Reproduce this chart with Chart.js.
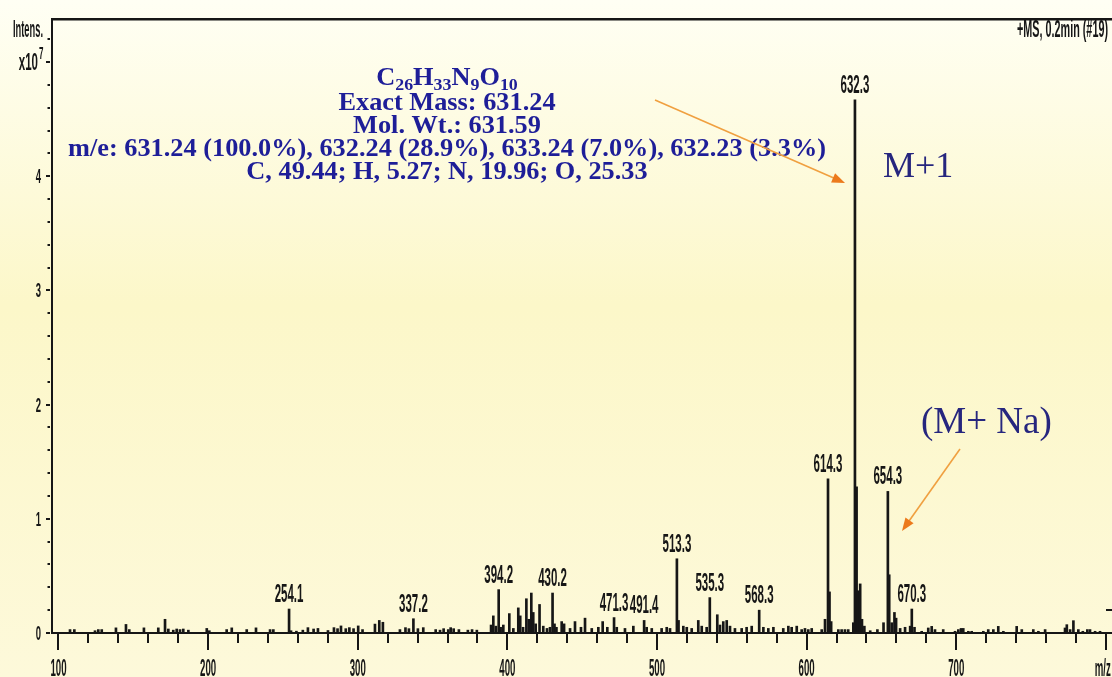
<!DOCTYPE html>
<html>
<head>
<meta charset="utf-8">
<script src="https://cdn.jsdelivr.net/npm/chart.js@4.4.1/dist/chart.umd.min.js"></script>
<style>
  html, body { margin: 0; padding: 0; background: #fefcea; }
  canvas { display: block; }
</style>
</head>
<body>
<canvas id="spectrum" width="1112" height="677"></canvas>
<script>
// ---- spectrum data: m/z positions and intensities (x10^7) ----
const mzValues = [
  107.7, 110.6, 124.4, 126.6, 128.9, 138.4, 145.1, 147.3, 157.1, 166.7,
  171.2, 173.4, 176.7, 179.0, 181.2, 183.4, 186.8, 199.1, 200.8, 212.4,
  215.8, 225.8, 232.0, 241.4, 243.6, 254.1, 255.4, 259.0, 263.3, 266.7,
  270.5, 273.4, 280.1, 284.1, 286.5, 288.8, 292.0, 294.4, 297.2, 300.3,
  303.2, 311.5, 314.4, 316.8, 328.2, 331.9, 334.2, 337.2, 340.2, 343.8,
  352.1, 355.0, 357.4, 360.5, 362.1, 364.1, 367.6, 373.6, 376.4, 379.6,
  389.1, 390.6, 392.3, 394.2, 395.5, 397.3, 401.3, 404.0, 407.3, 408.6,
  410.5, 412.7, 414.3, 416.0, 417.3, 418.9, 421.5, 424.0, 426.5, 428.5,
  430.2, 431.5, 432.8, 436.3, 437.9, 441.9, 445.2, 449.2, 451.9, 456.4,
  460.8, 463.7, 466.8, 471.3, 473.1, 478.6, 484.2, 491.4, 493.1, 496.5,
  503.1, 506.5, 508.7, 513.3, 514.4, 517.6, 519.9, 523.2, 527.6, 529.9,
  533.2, 535.3, 540.3, 542.1, 544.3, 546.6, 548.8, 552.1, 556.6, 559.9,
  563.3, 568.3, 571.1, 574.4, 577.8, 584.4, 587.8, 590.0, 593.4, 596.7,
  598.9, 601.1, 603.4, 610.1, 612.3, 614.3, 615.3, 616.4, 621.2, 623.4,
  625.6, 627.8, 631.2, 632.3, 633.4, 634.3, 635.8, 637.0, 638.6, 642.5,
  647.3, 651.4, 654.3, 655.2, 656.9, 658.7, 659.8, 662.5, 665.8, 669.2,
  670.3, 672.1, 676.9, 681.3, 683.6, 685.8, 691.3, 699.2, 701.4, 703.2,
  704.7, 708.1, 710.3, 718.1, 721.4, 724.8, 728.1, 731.5, 740.4, 743.8,
  751.5, 754.9, 759.4, 772.7, 773.9, 776.1, 778.3, 781.6, 784.6, 787.6,
  789.4, 792.8, 796.1
];
const intensities = [
  0.03, 0.03, 0.02, 0.03, 0.03, 0.045, 0.075, 0.03, 0.045, 0.045,
  0.12, 0.035, 0.025, 0.035, 0.03, 0.035, 0.025, 0.04, 0.02, 0.03,
  0.045, 0.03, 0.045, 0.03, 0.03, 0.21, 0.02, 0.016, 0.025, 0.047,
  0.035, 0.04, 0.022, 0.047, 0.038, 0.062, 0.038, 0.047, 0.038, 0.062,
  0.03, 0.078, 0.11, 0.094, 0.03, 0.047, 0.038, 0.125, 0.038, 0.047,
  0.03, 0.025, 0.038, 0.03, 0.047, 0.038, 0.03, 0.025, 0.03, 0.025,
  0.07, 0.15, 0.06, 0.38, 0.05, 0.07, 0.17, 0.04, 0.22, 0.15,
  0.05, 0.30, 0.12, 0.35, 0.18, 0.08, 0.25, 0.06, 0.04, 0.05,
  0.35, 0.08, 0.05, 0.10, 0.08, 0.04, 0.10, 0.05, 0.13, 0.04,
  0.05, 0.10, 0.05, 0.135, 0.05, 0.04, 0.06, 0.11, 0.05, 0.04,
  0.04, 0.05, 0.04, 0.65, 0.11, 0.06, 0.05, 0.04, 0.11, 0.06,
  0.05, 0.31, 0.16, 0.07, 0.10, 0.11, 0.06, 0.04, 0.04, 0.05,
  0.06, 0.20, 0.05, 0.04, 0.05, 0.04, 0.06, 0.05, 0.06, 0.03,
  0.04, 0.03, 0.04, 0.03, 0.12, 1.35, 0.36, 0.10, 0.03, 0.03,
  0.03, 0.03, 0.09, 4.67, 1.28, 0.37, 0.43, 0.12, 0.06, 0.02,
  0.03, 0.09, 1.24, 0.51, 0.09, 0.18, 0.13, 0.04, 0.05, 0.06,
  0.21, 0.05, 0.015, 0.044, 0.058, 0.03, 0.03, 0.015, 0.03, 0.04,
  0.04, 0.015, 0.015, 0.015, 0.03, 0.03, 0.058, 0.015, 0.058, 0.03,
  0.03, 0.015, 0.03, 0.044, 0.073, 0.03, 0.108, 0.03, 0.015, 0.03,
  0.03, 0.015, 0.015
];
// peaks carrying an m/z label
const labeledPeaks = [254.1, 337.2, 394.2, 430.2, 471.3, 491.4, 513.3, 535.3, 568.3, 614.3, 632.3, 654.3, 670.3];

// axis ticks
const xMajorTicks = [100, 200, 300, 400, 500, 600, 700, 800];
const xTickLabels = ['100', '200', '300', '400', '500', '600', '700', 'm/z'];
const yMajorTicks = [0, 1, 2, 3, 4, 5];
const yTickLabels = ['0', '1', '2', '3', '4', 'x10'];

// annotation texts
const formulaParts = [['C', 0], ['26', 1], ['H', 0], ['33', 1], ['N', 0], ['9', 1], ['O', 0], ['10', 1]];
const infoLines = [
  'Exact Mass: 631.24',
  'Mol. Wt.: 631.59',
  'm/e: 631.24 (100.0%), 632.24 (28.9%), 633.24 (7.0%), 632.23 (3.3%)',
  'C, 49.44; H, 5.27; N, 19.96; O, 25.33'
];
const headerText = '+MS, 0.2min (#19)';

const INK = '#161616';
const BLUE = '#1e1e98';
const NAVY = '#26267e';
const ORANGE = '#f0a040';
const ORANGE_HEAD = '#ec7a1c';
const SERIF = '"Liberation Serif", "Times New Roman", serif';

// condensed instrument-style lettering
function narrowText(ctx, text, x, y, size, sx, align, targetWidth) {
  ctx.save();
  ctx.font = 'bold ' + size + 'px "Liberation Sans", Arial, sans-serif';
  const raw = ctx.measureText(text).width;
  const s = targetWidth ? targetWidth / raw : sx;
  const w = raw * s;
  const left = align === 'center' ? x - w / 2 : align === 'right' ? x - w : x;
  ctx.translate(left, y);
  ctx.scale(s, 1);
  ctx.textAlign = 'left';
  ctx.textBaseline = 'alphabetic';
  ctx.fillStyle = INK;
  ctx.fillText(text, 0, 0);
  ctx.restore();
}

function arrow(ctx, x1, y1, x2, y2) {
  const ang = Math.atan2(y2 - y1, x2 - x1);
  const len = 13, half = 5;
  ctx.save();
  ctx.strokeStyle = ORANGE;
  ctx.lineWidth = 1.6;
  ctx.beginPath();
  ctx.moveTo(x1, y1);
  ctx.lineTo(x2 - Math.cos(ang) * len * 0.8, y2 - Math.sin(ang) * len * 0.8);
  ctx.stroke();
  ctx.fillStyle = ORANGE_HEAD;
  ctx.beginPath();
  ctx.moveTo(x2, y2);
  ctx.lineTo(x2 - Math.cos(ang) * len - Math.sin(ang) * half, y2 - Math.sin(ang) * len + Math.cos(ang) * half);
  ctx.lineTo(x2 - Math.cos(ang) * len + Math.sin(ang) * half, y2 - Math.sin(ang) * len - Math.cos(ang) * half);
  ctx.closePath();
  ctx.fill();
  ctx.restore();
}

const paper = {
  id: 'paper',
  beforeDraw(chart) {
    const { ctx, width, height } = chart;
    const g = ctx.createLinearGradient(0, 0, 0, height);
    g.addColorStop(0, '#fffff4');
    g.addColorStop(0.45, '#fcf7c9');
    g.addColorStop(1, '#fdf9da');
    ctx.save();
    ctx.fillStyle = g;
    ctx.fillRect(0, 0, width, height);
    ctx.restore();
  }
};

const axesAndNotes = {
  id: 'axesAndNotes',
  afterDatasetsDraw(chart) {
    const { ctx, chartArea: a, scales: { x, y } } = chart;
    ctx.save();
    ctx.fillStyle = INK;

    // frame: top edge, intensity axis, m/z axis
    ctx.fillRect(a.left - 1, a.top - 1, a.right - a.left + 1, 2.5);
    ctx.fillRect(a.left - 1, a.top - 1, 2, a.bottom - a.top + 2);
    ctx.fillRect(a.left - 1, a.bottom - 1, a.right - a.left + 1, 2);

    // m/z ticks: every 20, longer every 100
    for (let v = 100; v <= 800; v += 20) {
      const px = Math.round(x.getPixelForValue(v));
      const major = v % 100 === 0;
      ctx.fillRect(px - 1, a.bottom, 2, major ? 17 : 10);
    }
    xMajorTicks.forEach((v, i) => {
      const px = x.getPixelForValue(v);
      if (xTickLabels[i] === 'm/z') {
        narrowText(ctx, xTickLabels[i], px + 5, 676, 23, 0.42, 'right');
      } else {
        narrowText(ctx, xTickLabels[i], px, 676, 23, 0.42, 'center');
      }
    });

    // intensity ticks: every 0.2, short dashes off the axis
    ctx.fillStyle = INK;
    for (let i = 0; i * 0.2 <= y.max + 1e-9; i++) {
      const py = Math.round(y.getPixelForValue(i * 0.2));
      const major = i % 5 === 0;
      if (major) ctx.fillRect(a.left - 6, py - 1, 4, 2);
      else ctx.fillRect(a.left - 4.5, py - 1, 2.5, 2);
    }
    yMajorTicks.forEach((v, i) => {
      const py = y.getPixelForValue(v);
      if (yTickLabels[i] === 'x10') {
        narrowText(ctx, 'x10', 38, py + 8, 23, 0.5, 'right');
        narrowText(ctx, '7', 39, py - 3, 16, 0.5, 'left');
      } else {
        narrowText(ctx, yTickLabels[i], 41, py + 7, 21, 0.45, 'right');
      }
    });
    narrowText(ctx, 'Intens.', 13, 37, 23, 0, 'left', 30);

    // tiny tick on the right border
    ctx.fillStyle = INK;
    ctx.fillRect(a.right - 6, Math.round(y.getPixelForValue(0.2)) - 1, 6, 2);

    // header
    narrowText(ctx, headerText, 1108, 37, 23, 0, 'right', 91);

    // peak labels
    labeledPeaks.forEach(m => {
      const idx = mzValues.indexOf(m);
      const px = x.getPixelForValue(m);
      const py = y.getPixelForValue(intensities[idx]);
      narrowText(ctx, m.toFixed(1), px, py - 7, 25, 0.46, 'center');
    });

    // composition block
    const cx = 447;
    const big = 'bold 25px ' + SERIF;
    const small = 'bold 17px ' + SERIF;
    ctx.fillStyle = BLUE;
    ctx.textBaseline = 'alphabetic';
    ctx.font = big;
    const sx = 758 / ctx.measureText(infoLines[2]).width;
    // molecular formula with subscripts
    let total = 0;
    formulaParts.forEach(([t, sub]) => {
      ctx.font = sub ? small : big;
      total += ctx.measureText(t).width;
    });
    let fx = cx - total * sx / 2;
    formulaParts.forEach(([t, sub]) => {
      ctx.font = sub ? small : big;
      const w = ctx.measureText(t).width;
      ctx.save();
      ctx.translate(fx, sub ? 90 : 85);
      ctx.scale(sx, 1);
      ctx.fillText(t, 0, 0);
      ctx.restore();
      fx += w * sx;
    });
    ctx.font = big;
    const baselines = [110, 133, 156, 179];
    infoLines.forEach((line, i) => {
      const w = ctx.measureText(line).width * sx;
      ctx.save();
      ctx.translate(cx - w / 2, baselines[i]);
      ctx.scale(sx, 1);
      ctx.fillText(line, 0, 0);
      ctx.restore();
    });

    // ion labels
    ctx.fillStyle = NAVY;
    ctx.font = '36px ' + SERIF;
    ctx.fillText('M+1', 883, 177);
    ctx.font = '37px ' + SERIF;
    ctx.fillText('(M+ Na)', 921, 433);

    arrow(ctx, 655, 100, 845, 183);
    arrow(ctx, 960, 449, 902, 531);
    ctx.restore();
  }
};

new Chart(document.getElementById('spectrum'), {
  type: 'bar',
  data: {
    datasets: [{
      data: mzValues.map((m, i) => ({ x: m, y: intensities[i] })),
      backgroundColor: INK,
      borderWidth: 0,
      barThickness: 2
    }]
  },
  options: {
    responsive: false,
    animation: false,
    events: [],
    layout: { padding: { left: 52, top: 19, right: 0, bottom: 44 } },
    plugins: { legend: { display: false }, tooltip: { enabled: false } },
    scales: {
      x: { type: 'linear', display: false, min: 95.66, max: 804.1, offset: false },
      y: { type: 'linear', display: false, min: 0, max: 5.377 }
    }
  },
  plugins: [paper, axesAndNotes]
});
</script>
</body>
</html>
